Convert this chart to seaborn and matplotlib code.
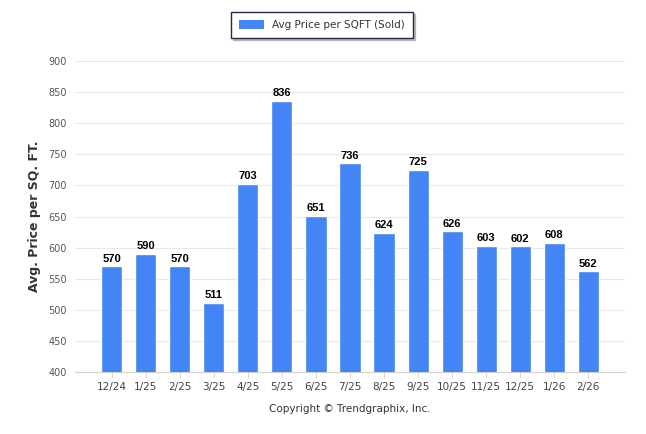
import pandas as pd
import matplotlib
matplotlib.use("Agg")
import matplotlib.pyplot as plt
import seaborn as sns
from matplotlib.patches import Patch

sns.set_theme(style="white")
plt.rcParams["font.family"] = ["DejaVu Sans"]

# chart data
months = ["12/24", "1/25", "2/25", "3/25", "4/25", "5/25", "6/25", "7/25",
          "8/25", "9/25", "10/25", "11/25", "12/25", "1/26", "2/26"]
avg_price = [570, 590, 570, 511, 703, 836, 651, 736, 624, 725, 626, 603, 602, 608, 562]

df = pd.DataFrame({"month": months, "price": avg_price})
bar_color = "#4385F5"

fig = plt.figure(figsize=(6.46, 4.34), dpi=100)
ax = fig.add_axes([0.1161, 0.1429, 0.8514, 0.7165])

sns.barplot(data=df, x="month", y="price", color=bar_color, width=0.62,
            saturation=1, ax=ax, zorder=3)

ax.set_ylim(400, 900)
ax.set_yticks(range(400, 901, 50))
ax.set_xlim(-1.08, 15.08)
ax.grid(axis="y", color="#e8e8e8", linewidth=0.8, zorder=0)

for s in ["top", "right", "left"]:
    ax.spines[s].set_visible(False)
ax.spines["bottom"].set_color("#d0d0d0")
ax.spines["bottom"].set_linewidth(0.8)

ax.tick_params(axis="y", labelsize=7, colors="#555555", length=0, pad=6)
ax.tick_params(axis="x", labelsize=7.5, colors="#444444", length=4,
               width=0.6, color="#d0d0d0", bottom=True, direction="out", pad=3)

ax.set_xlabel("")
ax.set_ylabel("Avg. Price per SQ. FT.", fontsize=9, fontweight="bold",
              color="#333333", labelpad=5)

# value labels on bars
for i, v in enumerate(avg_price):
    ax.text(i, v + 4, str(v), ha="center", va="bottom", fontsize=8,
            fontweight="bold", color="black", family="Liberation Sans")

# legend at top
handle = Patch(facecolor=bar_color, edgecolor="none", label="Avg Price per SQFT (Sold)")
leg = fig.legend(handles=[handle], loc="center", bbox_to_anchor=(0.4985, 0.942),
                 fontsize=7.5, frameon=True, fancybox=False,
                 shadow={"ox": 1.5, "oy": -1.5, "color": "#999999", "alpha": 0.6},
                 handlelength=2.4, handleheight=0.9, borderpad=0.75)
leg.get_frame().set_edgecolor("#1f2a44")
leg.get_frame().set_linewidth(1.0)
for t in leg.get_texts():
    t.set_color("#333333")

fig.text(0.542, 0.057, "Copyright \u00a9 Trendgraphix, Inc.", ha="center", va="center",
         fontsize=7.5, color="#333333")

fig.savefig("out.png", dpi=100)
